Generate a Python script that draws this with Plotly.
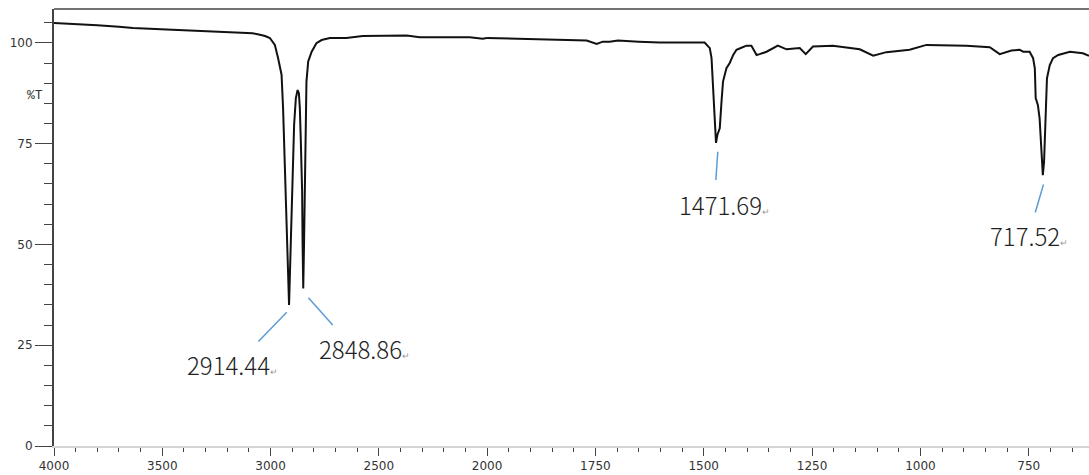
import numpy as np
import plotly.graph_objects as go

# ---- data (wavenumber cm-1, %T) ----
wavenumber = [4000, 3900, 3800, 3700, 3635, 3480, 3326, 3250, 3174, 3120, 3082, 3049, 3025, 3003, 2980, 2965,
              2949, 2942, 2934, 2926, 2921, 2918.6, 2914.44, 2911, 2906, 2900, 2891, 2883, 2875, 2869, 2864.6,
              2860, 2854, 2852, 2848.86, 2845, 2841.6, 2838, 2834, 2826, 2810, 2788, 2764, 2726,
              2650, 2574, 2450, 2371, 2311, 2200, 2080, 2020, 2000,
              1925, 1850, 1793, 1770, 1747, 1733, 1717, 1698, 1650, 1601, 1498, 1486, 1482, 1478.5,
              1474.6, 1471.69, 1468.4, 1463, 1459, 1455.5, 1447.6, 1440, 1432, 1424.5, 1413, 1401.5,
              1390, 1378, 1371, 1355, 1329, 1309, 1278.5, 1264.6, 1248, 1202, 1140, 1109, 1078.5,
              1025, 986, 894, 840, 817, 790, 771, 763, 748, 740, 736, 734, 729, 725, 722, 718.5,
              717.52, 714.7, 713, 711, 708, 701.5, 694, 682, 655, 625, 611]
transmittance = [104.9, 104.7, 104.4, 104.0, 103.7, 103.3, 103.0, 102.8, 102.6, 102.5, 102.4, 102.0, 101.7,
                 101.2, 99.5, 96.2,
                 92.1, 83.8, 71.4, 59.0, 50.7, 42.4, 35.0, 42.4, 54.8, 67.2, 79.7, 86.3, 88.3, 87.5, 83.8,
                 75.5, 63.1, 50.7, 39.1, 50.7, 67.2, 79.7, 90.4, 95.4, 97.8, 99.9, 100.7, 101.2,
                 101.2, 101.7, 101.8, 101.8, 101.4, 101.4, 101.4, 101.0, 101.2,
                 101.0, 100.9, 100.7, 100.6, 99.75, 100.3, 100.3, 100.6, 100.3, 100.1, 100.1, 98.7, 96.2, 89.6,
                 81.3, 75.2, 77.2, 78.8, 85.4, 90.4, 93.7, 95.0, 97.0, 98.3, 98.8, 99.3,
                 99.3, 97.0, 97.2, 97.8, 99.3, 98.4, 98.7, 97.2, 99.1, 99.3, 98.4, 96.8, 97.7,
                 98.3, 99.5, 99.3, 98.9, 97.2, 98.1, 98.3, 97.8, 97.8, 96.2, 93.7, 86.3, 84.6, 81.3, 74.7, 70.5,
                 67.2, 70.5, 77.2, 85.4, 91.2, 94.5, 96.2, 97.0, 97.8, 97.4, 96.8]

# labelled peaks
peak_labels = ["2914.44", "2848.86", "1471.69", "717.52"]
peak_wn = [2914.44, 2848.86, 1471.69, 717.52]

# axis ticks
x1_ticks = [4000, 3500, 3000, 2500, 2000]
x2_ticks = [1750, 1500, 1250, 1000, 750]
x2_ticktext = [str(v) for v in x2_ticks]
y_ticks = [0, 25, 50, 75, 100]

wn = np.array(wavenumber)
tr = np.array(transmittance)
hi = wn >= 2000
lo = wn <= 2000

SPLIT = 0.4184
LINE = "#111111"
AX = "#444444"
TICKFONT = dict(family="DejaVu Sans", size=12, color="#333333")

fig = go.Figure()
fig.add_trace(go.Scatter(x=wn[hi], y=tr[hi], mode="lines", xaxis="x", yaxis="y",
                         line=dict(color=LINE, width=2), showlegend=False, hoverinfo="skip"))
fig.add_trace(go.Scatter(x=wn[lo], y=tr[lo], mode="lines", xaxis="x2", yaxis="y",
                         line=dict(color=LINE, width=2), showlegend=False, hoverinfo="skip"))

# leader lines
leaders = [
    ("x", 3056, 25.9, 2925, 33.2),
    ("x", 2825, 36.8, 2713, 30.0),
    ("x2", 1467.6, 73.0, 1472, 66.0),
    ("x2", 716, 64.9, 735, 57.9),
]
for xr, xa, ya, xb, yb in leaders:
    fig.add_shape(type="line", xref=xr, yref="y", x0=xa, y0=ya, x1=xb, y1=yb,
                  line=dict(color="#5b9bd5", width=1.5))

label_pos = [("x", 3395, 20.3), ("x", 2785, 24.1), ("x2", 1561.5, 60.0), ("x2", 844, 52.1)]
for lab, (xr, lx, ly) in zip(peak_labels, label_pos):
    fig.add_annotation(xref=xr, yref="y", x=lx, y=ly, xanchor="left", yanchor="middle",
                       text=lab + "<span style='font-size:9px;color:#999999'>↵</span>",
                       showarrow=False,
                       font=dict(family="Noto Sans CJK SC", size=24, color="#222222", weight=300))

# %T label
fig.add_annotation(xref="paper", yref="y", x=-0.028, y=87.0, text="%T", showarrow=False,
                   font=dict(family="Liberation Mono", size=13, color="#333333"))

# top frame line
fig.add_shape(type="line", xref="paper", yref="paper", x0=0, x1=1, y0=1, y1=1,
              line=dict(color=AX, width=1.5))

fig.update_layout(
    template="none",
    width=1089, height=475, autosize=False,
    margin=dict(l=54, r=0, t=9, b=29),
    plot_bgcolor="white", paper_bgcolor="white",
    xaxis=dict(domain=[0, SPLIT], range=[4000, 2000], tickmode="array", tickvals=x1_ticks,
               ticks="outside", ticklen=8, tickwidth=1, tickcolor=AX, automargin=False,
               minor=dict(tickmode="linear", tick0=0, dtick=100, ticks="outside", ticklen=4,
                          tickwidth=1, tickcolor=AX, showgrid=False),
               showline=True, linecolor="#d4d4d4", linewidth=2, showgrid=False, zeroline=False,
               tickfont=TICKFONT, anchor="y"),
    xaxis2=dict(domain=[SPLIT, 1], range=[2000, 611], tickmode="array", tickvals=x2_ticks,
                ticktext=x2_ticktext, automargin=False,
                ticks="outside", ticklen=8, tickwidth=1, tickcolor=AX,
                minor=dict(tickmode="linear", tick0=0, dtick=50, ticks="outside", ticklen=4,
                           tickwidth=1, tickcolor=AX, showgrid=False),
                showline=True, linecolor="#d4d4d4", linewidth=2, showgrid=False, zeroline=False,
                tickfont=TICKFONT, anchor="y"),
    yaxis=dict(range=[0, 108.4], tickmode="array", tickvals=y_ticks, automargin=False,
               ticks="outside", ticklen=17, tickwidth=1, tickcolor=AX,
               minor=dict(tickmode="linear", tick0=0, dtick=5, ticks="outside", ticklen=8,
                          tickwidth=1, tickcolor=AX, showgrid=False),
               showline=True, linecolor=AX, linewidth=2, showgrid=False, zeroline=False,
               tickfont=TICKFONT, anchor="x"),
)

fig.write_html("out.html",
               config={"responsive": False, "displayModeBar": False},
               post_script="document.body.style.margin='0';document.body.style.overflow='hidden';")
